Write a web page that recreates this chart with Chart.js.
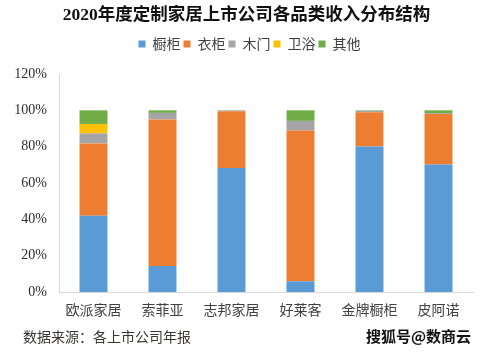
<!DOCTYPE html>
<html>
<head>
<meta charset="utf-8">
<script src="https://cdn.jsdelivr.net/npm/chart.js@4/dist/chart.umd.min.js"></script>
<style>
  html, body { margin: 0; padding: 0; background: #fff; }
  #wrap { position: relative; width: 489px; height: 355px; overflow: hidden; }
  canvas { display: block; }
  #src { position: absolute; left: 23px; top: 326px; font: 14px "Noto Sans CJK SC", sans-serif; color: #3a3530; white-space: nowrap; line-height: 20px; }
  #wm { position: absolute; left: 366px; top: 325px; font: bold 15px "Noto Sans CJK SC", sans-serif; color: #111; white-space: nowrap; line-height: 22px;
        text-shadow: 1px 0 #fff, -1px 0 #fff, 0 1px #fff, 0 -1px #fff; }
</style>
</head>
<body>
<div id="wrap">
  <canvas id="c" width="489" height="355"></canvas>
  <div id="src">数据来源：各上市公司年报</div>
  <div id="wm">搜狐号@数商云</div>
</div>
<script>
const categories = ["欧派家居", "索菲亚", "志邦家居", "好莱客", "金牌橱柜", "皮阿诺"];
const cabinet  = [42.0, 14.3, 68.2, 5.9, 80.1, 70.2];   // 橱柜
const wardrobe = [39.8, 80.7, 31.3, 83.0, 18.9, 27.8];  // 衣柜
const door     = [5.5, 3.6, 0.5, 5.3, 0.7, 0.5];        // 木门
const bath     = [5.2, 0, 0, 0, 0, 0];                  // 卫浴
const other    = [7.5, 1.4, 0, 5.8, 0.3, 1.5];          // 其他
const seriesNames = ["橱柜", "衣柜", "木门", "卫浴", "其他"];
const yTicks = [0, 20, 40, 60, 80, 100, 120];

const colors = ["#5B9BD5", "#ED7D31", "#A5A5A5", "#FFC000", "#70AD47"];
const seriesData = [cabinet, wardrobe, door, bath, other];

const serif = '"Liberation Serif", "Noto Sans CJK SC", serif';
const cjk = '"Noto Sans CJK SC", sans-serif';

const headerAdjust = {
  id: "headerAdjust",
  beforeInit(chart) {
    const orig = chart.legend.fit;
    chart.legend.fit = function () { orig.call(this); this.height += 13; };
  },
  afterLayout(chart) {
    if (chart.legend) { chart.legend.left += 8; chart.legend.right += 8; }
    if (chart.titleBlock) { chart.titleBlock.left += 5; chart.titleBlock.right += 5; }
  }
};

new Chart(document.getElementById("c"), {
  type: "bar",
  data: {
    labels: categories,
    datasets: seriesNames.map((n, i) => ({
      label: n,
      data: seriesData[i],
      backgroundColor: colors[i],
      borderWidth: 0,
      categoryPercentage: 1.0,
      barPercentage: 0.405
    }))
  },
  plugins: [headerAdjust],
  options: {
    responsive: false,
    animation: false,
    layout: { padding: { top: 0, right: 16, bottom: 33, left: 10 } },
    plugins: {
      title: {
        display: true,
        text: "2020年度定制家居上市公司各品类收入分布结构",
        color: "#111",
        font: { family: serif, size: 17.5, weight: "bold" },
        padding: { top: 5, bottom: 8 }
      },
      legend: {
        display: true,
        position: "top",
        labels: {
          boxWidth: 7, boxHeight: 7, padding: 3,
          color: "#404040",
          font: { family: cjk, size: 14 }
        }
      },
      tooltip: { enabled: false }
    },
    scales: {
      x: {
        stacked: true,
        grid: { display: false, drawTicks: false },
        border: { display: true, color: "#D9D9D9", width: 1 },
        ticks: { color: "#404040", font: { family: cjk, size: 14 }, padding: 9, maxRotation: 0 },
        afterFit: s => { s.height = 30; }
      },
      y: {
        stacked: true,
        min: 0, max: 120,
        afterBuildTicks: s => { s.ticks = yTicks.map(v => ({ value: v })); },
        grid: { display: false, drawTicks: false },
        border: { display: true, color: "#D9D9D9", width: 1 },
        ticks: { color: "#2b2b2b", font: { family: serif, size: 14 }, padding: 12,
                 callback: v => v + "%" },
        afterFit: s => { s.width = 49; }
      }
    }
  }
});
</script>
</body>
</html>
